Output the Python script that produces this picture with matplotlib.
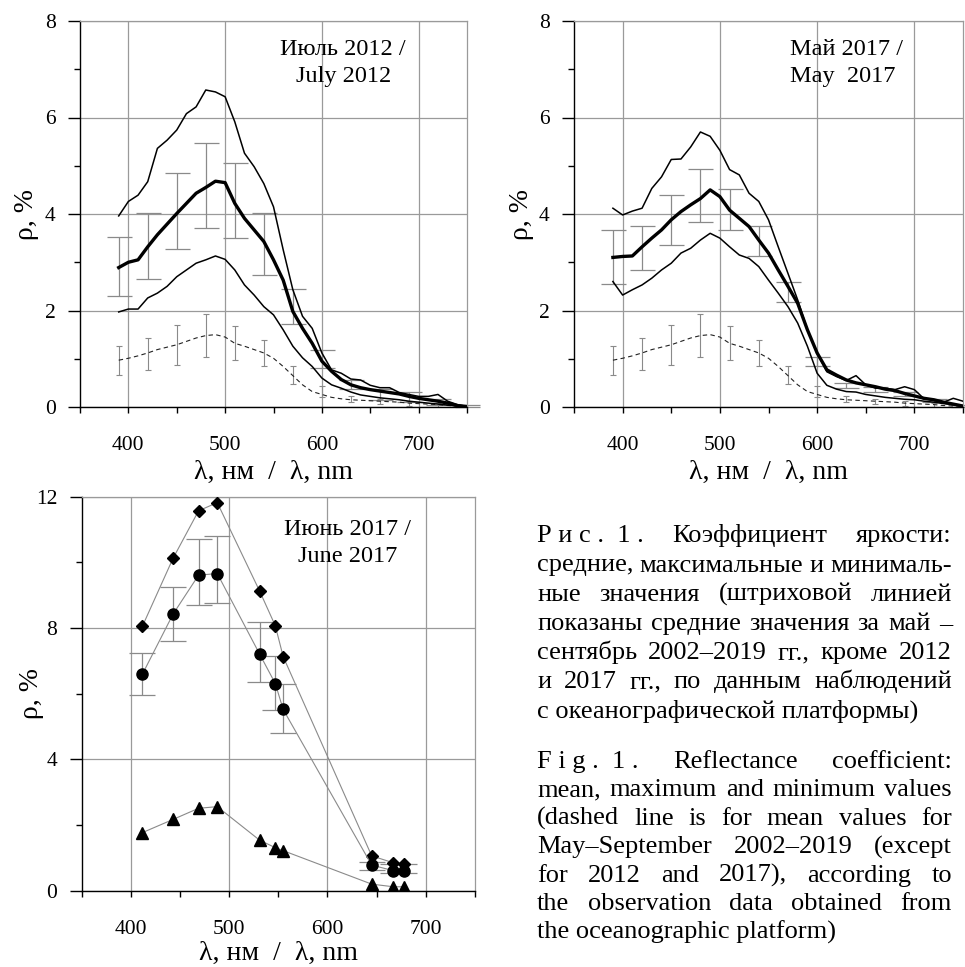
import matplotlib
matplotlib.use("Agg")
import matplotlib.pyplot as plt
import numpy as np

plt.rcParams['font.family'] = ['Liberation Serif', 'DejaVu Serif']

W, H = 965, 967

# wavelength grid of the spectra (nm)
wl = [390, 400, 410, 420, 430, 440, 450, 460, 470, 480, 490, 500, 510, 520,
      530, 540, 550, 560, 570, 580, 590, 600, 610, 620, 630, 640, 650, 660,
      670, 680, 690, 700, 710, 720, 730, 740, 750]

# July 2012
jul_mean = [2.89, 3.00, 3.05, 3.32, 3.57, 3.79, 4.01, 4.22, 4.43, 4.55, 4.68, 4.65, 4.22, 3.91,
            3.67, 3.43, 3.05, 2.63, 1.98, 1.63, 1.32, 0.95, 0.74, 0.57, 0.46, 0.40, 0.36, 0.33,
            0.30, 0.27, 0.22, 0.18, 0.15, 0.12, 0.08, 0.03, 0.01]
jul_max = [3.96, 4.26, 4.39, 4.67, 5.36, 5.53, 5.74, 6.08, 6.22, 6.57, 6.53, 6.43, 5.91, 5.26,
           4.98, 4.63, 4.15, 3.26, 2.43, 1.88, 1.63, 1.12, 0.77, 0.70, 0.58, 0.56, 0.45, 0.40,
           0.40, 0.30, 0.26, 0.22, 0.22, 0.26, 0.12, 0.05, 0.01]
jul_min = [1.97, 2.03, 2.03, 2.26, 2.36, 2.50, 2.70, 2.84, 2.98, 3.05, 3.13, 3.06, 2.84, 2.53,
           2.32, 2.08, 1.91, 1.60, 1.26, 1.02, 0.84, 0.60, 0.46, 0.39, 0.31, 0.25, 0.22, 0.19,
           0.17, 0.15, 0.12, 0.10, 0.08, 0.06, 0.04, 0.02, 0.01]

# May 2017
may_mean = [3.10, 3.12, 3.13, 3.32, 3.50, 3.67, 3.88, 4.05, 4.19, 4.32, 4.50, 4.36, 4.08, 3.91,
            3.74, 3.46, 3.19, 2.84, 2.50, 2.15, 1.60, 1.12, 0.77, 0.66, 0.56, 0.50, 0.46, 0.42,
            0.37, 0.34, 0.28, 0.23, 0.18, 0.15, 0.10, 0.06, 0.02]
may_max = [4.12, 3.98, 4.06, 4.12, 4.53, 4.77, 5.13, 5.14, 5.39, 5.70, 5.61, 5.32, 4.92, 4.81,
           4.43, 4.26, 3.88, 3.32, 2.77, 2.22, 1.60, 1.12, 0.73, 0.63, 0.55, 0.65, 0.46, 0.39,
           0.39, 0.36, 0.42, 0.36, 0.17, 0.14, 0.10, 0.18, 0.12]
may_min = [2.60, 2.32, 2.43, 2.53, 2.67, 2.84, 2.98, 3.19, 3.29, 3.46, 3.60, 3.50, 3.32, 3.15,
           3.08, 2.91, 2.63, 2.36, 2.08, 1.74, 1.26, 0.70, 0.45, 0.37, 0.32, 0.31, 0.26, 0.23,
           0.20, 0.18, 0.16, 0.15, 0.12, 0.10, 0.07, 0.05, 0.02]

# multi-year mean May-Sept 2002-2019 (dashed)
clim_mean = [0.97, 1.01, 1.06, 1.12, 1.19, 1.24, 1.29, 1.36, 1.43, 1.48, 1.50, 1.45, 1.32, 1.26,
             1.19, 1.12, 1.01, 0.84, 0.65, 0.46, 0.32, 0.26, 0.20, 0.17, 0.15, 0.14, 0.13, 0.12,
             0.11, 0.10, 0.08, 0.07, 0.06, 0.05, 0.03, 0.02, 0.01]

# error bars (low / high ends)
err_wl = [390, 420, 450, 480, 510, 540, 570, 600, 630, 660, 690, 720, 750]
jul_lo = [2.30, 2.65, 3.27, 3.72, 3.50, 2.73, 1.71, 0.81, 0.37, 0.15, 0.10, 0.05, 0.00]
jul_hi = [3.52, 4.03, 4.85, 5.47, 5.06, 4.02, 2.45, 1.18, 0.55, 0.37, 0.32, 0.17, 0.05]
may_lo = [2.55, 2.84, 3.36, 3.84, 3.67, 3.12, 2.17, 0.84, 0.40, 0.32, 0.22, 0.10, 0.00]
may_hi = [3.66, 3.75, 4.39, 4.93, 4.52, 3.76, 2.59, 1.03, 0.50, 0.42, 0.32, 0.16, 0.04]
clim_err_wl = [390, 420, 450, 480, 510, 540, 570, 600, 630, 660, 690, 720]
clim_lo = [0.67, 0.77, 0.88, 1.04, 0.97, 0.84, 0.48, 0.20, 0.10, 0.07, 0.03, 0.01]
clim_hi = [1.27, 1.44, 1.69, 1.92, 1.67, 1.39, 0.86, 0.43, 0.22, 0.16, 0.12, 0.08]

# June 2017, satellite bands
modis_wl = [412, 443, 469, 488, 531, 547, 555, 645, 667, 678]
jun_max = [8.06, 10.12, 11.57, 11.82, 9.13, 8.07, 7.13, 1.06, 0.85, 0.82]
jun_mean = [6.60, 8.42, 9.61, 9.66, 7.21, 6.31, 5.52, 0.78, 0.61, 0.60]
jun_min = [1.77, 2.17, 2.51, 2.56, 1.54, 1.31, 1.22, 0.20, 0.12, 0.12]
jun_lo = [5.97, 7.60, 8.70, 8.75, 6.35, 5.50, 4.80, 0.63, 0.53, 0.53]
jun_hi = [7.25, 9.25, 10.70, 10.80, 8.17, 7.15, 6.30, 0.88, 0.81, 0.81]

xlabel = "λ, нм  /  λ, nm"
ylabel = "ρ, %"
GRID = '#9a9a9a'
ERR = '#8a8a8a'

fig = plt.figure(figsize=(W / 100, H / 100), dpi=100)
ax1 = fig.add_axes([80 / W, 1 - 407 / H, 387 / W, 386 / H])
ax2 = fig.add_axes([574 / W, 1 - 407 / H, 389 / W, 386 / H])
ax3 = fig.add_axes([81.5 / W, 1 - 890.7 / H, 393.5 / W, 394 / H])


def style_axes(ax, ymax, ystep, w_px, h_px, ylab_px):
    ax.set_xlim(350, 750)
    ax.set_ylim(0, ymax)
    ax.set_xticks([400, 500, 600, 700])
    ax.set_xticks([350, 450, 550, 650, 750], minor=True)
    ax.set_yticks(np.arange(0, ymax + 0.1, ystep))
    ax.set_yticks(np.arange(ystep / 2, ymax, ystep), minor=True)
    ax.grid(True, which='major', color=GRID, lw=0.9)
    ax.set_axisbelow(True)
    for s in ['top', 'right']:
        ax.spines[s].set_color(GRID)
        ax.spines[s].set_linewidth(0.9)
    for s in ['left', 'bottom']:
        ax.spines[s].set_linewidth(1.0)
    ax.tick_params(axis='x', which='both', direction='out', length=4.5, width=1.0,
                   pad=16.5, labelsize=15.5)
    ax.tick_params(axis='y', which='major', direction='out', length=8.5, width=1.0,
                   pad=9, labelsize=15.5)
    ax.tick_params(axis='y', which='minor', direction='out', length=4.5, width=1.0)
    ax.set_xlabel(xlabel, fontsize=20, va='center')
    ax.set_ylabel(ylabel, fontsize=20, va='center')
    ax.xaxis.set_label_coords(0.5, -65 / h_px)
    ax.yaxis.set_label_coords(-ylab_px / w_px, 0.5)


def spectra(ax, mean, vmax, vmin, lo, hi):
    lo = np.array(lo)
    hi = np.array(hi)
    ax.errorbar(err_wl, lo, yerr=[np.zeros_like(lo), hi - lo], fmt='none', ecolor=ERR,
                elinewidth=0.9, capsize=9, capthick=0.9, zorder=2, clip_on=False)
    clo = np.array(clim_lo)
    chi = np.array(clim_hi)
    ax.errorbar(clim_err_wl, clo, yerr=[np.zeros_like(clo), chi - clo], fmt='none',
                ecolor=ERR, elinewidth=0.8, capsize=2, capthick=0.8, zorder=2)
    ax.plot(wl, clim_mean, color='#222222', lw=0.8, ls=(0, (4, 3)), zorder=3)
    ax.plot(wl, vmax, color='black', lw=1.1, zorder=4)
    ax.plot(wl, vmin, color='black', lw=1.1, zorder=4)
    ax.plot(wl, mean, color='black', lw=2.4, zorder=5)


# Panel: July 2012
spectra(ax1, jul_mean, jul_max, jul_min, jul_lo, jul_hi)
style_axes(ax1, 8, 2, 387, 386, 53)
ax1.text(0.68, 0.912, "Июль 2012 /", transform=ax1.transAxes, ha='center',
         va='baseline', fontsize=17.5)
ax1.text(0.68, 0.842, "July 2012", transform=ax1.transAxes, ha='center',
         va='baseline', fontsize=17.5)

# Panel: May 2017
spectra(ax2, may_mean, may_max, may_min, may_lo, may_hi)
style_axes(ax2, 8, 2, 389, 386, 52)
ax2.text(0.555, 0.912, "Май 2017 /", transform=ax2.transAxes, ha='left',
         va='baseline', fontsize=17.5)
ax2.text(0.555, 0.842, "May  2017", transform=ax2.transAxes, ha='left',
         va='baseline', fontsize=17.5)

# Panel: June 2017 (points)
lo3 = np.array(jun_lo)
hi3 = np.array(jun_hi)
ax3.errorbar(modis_wl, lo3, yerr=[np.zeros_like(lo3), hi3 - lo3], fmt='none', ecolor=ERR,
             elinewidth=0.9, capsize=9.5, capthick=0.9, zorder=2)
ax3.plot(modis_wl, jun_max, color=ERR, lw=0.8, marker='D', ms=6, mfc='black', mec='black',
         zorder=4)
ax3.plot(modis_wl, jun_mean, color=ERR, lw=0.8, marker='o', ms=8, mfc='black', mec='black',
         zorder=5)
ax3.plot(modis_wl, jun_min, color=ERR, lw=0.8, marker='^', ms=8, mfc='black', mec='black',
         zorder=4)
style_axes(ax3, 12, 4, 393.5, 394, 49.5)
ax3.xaxis.set_label_coords(0.5, -63 / 394)
ax3.text(0.677, 0.903, "Июнь 2017 /", transform=ax3.transAxes, ha='center',
         va='baseline', fontsize=17.5)
ax3.text(0.677, 0.835, "June 2017", transform=ax3.transAxes, ha='center',
         va='baseline', fontsize=17.5)

# Caption, justified
cap_x0, cap_x1 = 537, 952
cap_size = 19
ru_lines = [
    ["Р и с .  1 .", "Коэффициент", "яркости:"],
    "средние, максимальные и минималь-".split(),
    "ные значения (штриховой линией".split(),
    "показаны средние значения за май –".split(),
    "сентябрь 2002–2019 гг., кроме 2012".split(),
    "и 2017 гг., по данным наблюдений".split(),
    "с океанографической платформы)".split(),
]
en_lines = [
    ["F i g .  1 .", "Reflectance", "coefficient:"],
    "mean, maximum and minimum values".split(),
    "(dashed line is for mean values for".split(),
    "May–September 2002–2019 (except".split(),
    "for 2012 and 2017), according to".split(),
    "the observation data obtained from".split(),
    "the oceanographic platform)".split(),
]

renderer = fig.canvas.get_renderer()


def paragraph(lines, baselines):
    for i, words in enumerate(lines):
        y = 1 - baselines[i] / H
        if i == len(lines) - 1:
            fig.text(cap_x0 / W, y, " ".join(words), fontsize=cap_size, va='baseline')
            continue
        items = [fig.text(0, y, w, fontsize=cap_size, va='baseline') for w in words]
        widths = [t.get_window_extent(renderer).width for t in items]
        gap = (cap_x1 - cap_x0 - sum(widths)) / (len(words) - 1)
        x = cap_x0
        for t, w in zip(items, widths):
            t.set_x(x / W)
            x += w + gap


paragraph(ru_lines, [542 if i == 0 else 571.5 + (i - 1) * 29.2 for i in range(7)])
paragraph(en_lines, [768 + i * 28.4 for i in range(7)])

fig.savefig("out.png", dpi=100)
